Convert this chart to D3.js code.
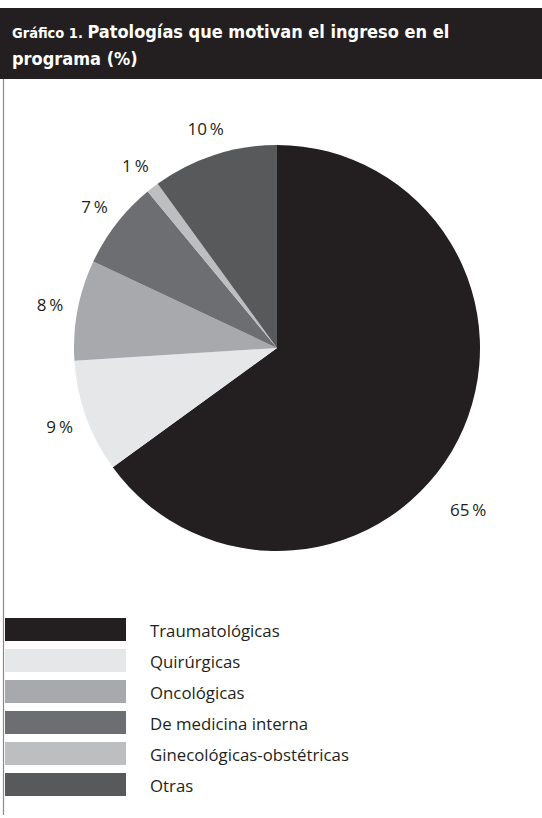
<!DOCTYPE html>
<html>
<head>
<meta charset="utf-8">
<script src="https://cdn.jsdelivr.net/npm/d3@7/dist/d3.min.js"></script>
<style>
html,body{margin:0;padding:0;background:#fff;}
svg{display:block;}
</style>
</head>
<body>
<svg id="chart" width="542" height="818"></svg>
<script>
const categories = ["Traumatológicas","Quirúrgicas","Oncológicas","De medicina interna","Ginecológicas-obstétricas","Otras"];
const values = [65, 9, 8, 7, 1, 10];
const colors = ["#231f20","#e6e7e8","#a7a9ac","#6d6e71","#bcbec0","#58595b"];
const titlePrefix = "Gráfico 1.";
const titleLine1 = "Patologías que motivan el ingreso en el";
const titleLine2 = "programa (%)";

const W = 542, H = 818;
const svg = d3.select("#chart");
const font = "'Open Sans', 'Noto Sans', sans-serif";
const titleFont = "'DejaVu Sans Condensed', 'DejaVu Sans', sans-serif";

// header band
svg.append("rect").attr("x",0).attr("y",8).attr("width",W).attr("height",71).attr("fill","#231f20");
const t1 = svg.append("text").attr("x",12).attr("y",38).attr("fill","#fff").attr("font-family",titleFont).attr("font-weight","bold");
t1.append("tspan").attr("font-size",14.5).text(titlePrefix + " ");
t1.append("tspan").attr("font-size",18).text(titleLine1);
svg.append("text").attr("x",12).attr("y",65).attr("fill","#fff").attr("font-family",titleFont).attr("font-weight","bold").attr("font-size",18).text(titleLine2);

// left rule
svg.append("line").attr("x1",3.5).attr("x2",3.5).attr("y1",79).attr("y2",815).attr("stroke","#8a8a8a").attr("stroke-width",1.2);

// pie
const cx = 277, cy = 348, R = 203, labelR = 231;
const data = categories.map((c,i)=>({cat:c, value:values[i], color:colors[i]}));
const pie = d3.pie().value(d=>d.value).sort(null);
const arcs = pie(data);
const arc = d3.arc().innerRadius(0).outerRadius(R);
const labelArc = d3.arc().innerRadius(labelR).outerRadius(labelR);
const g = svg.append("g").attr("transform",`translate(${cx},${cy})`);
g.selectAll("path").data(arcs).join("path").attr("d",arc).attr("fill",d=>d.data.color);

const pct = d3.format("d");
g.selectAll("text.lbl").data(arcs).join("text").attr("class","lbl")
  .attr("transform",(d,i)=>{
    let p;
    if (i === 0) {
      // largest slice label sits lower, below the outer edge
      const a = d.startAngle + (d.endAngle - d.startAngle)*0.556;
      const r2 = 250;
      p = [Math.sin(a)*r2, -Math.cos(a)*r2];
    } else {
      p = labelArc.centroid(d);
    }
    return `translate(${p[0]},${p[1]})`;
  })
  .attr("text-anchor","middle").attr("dominant-baseline","central")
  .attr("font-family",font).attr("font-size",17).attr("fill","#231f20")
  .text(d=>pct(d.data.value) + "\u2009%");

// legend
const legY0 = 618, legStep = 31;
const leg = svg.append("g");
const rows = leg.selectAll("g").data(data).join("g").attr("transform",(d,i)=>`translate(0,${legY0 + i*legStep})`);
rows.append("rect").attr("x",5).attr("y",0).attr("width",121).attr("height",23).attr("fill",d=>d.color);
rows.append("text").attr("x",150).attr("y",18.5).attr("font-family",font).attr("font-size",16.8).attr("fill","#231f20").text(d=>d.cat);
</script>
</body>
</html>
